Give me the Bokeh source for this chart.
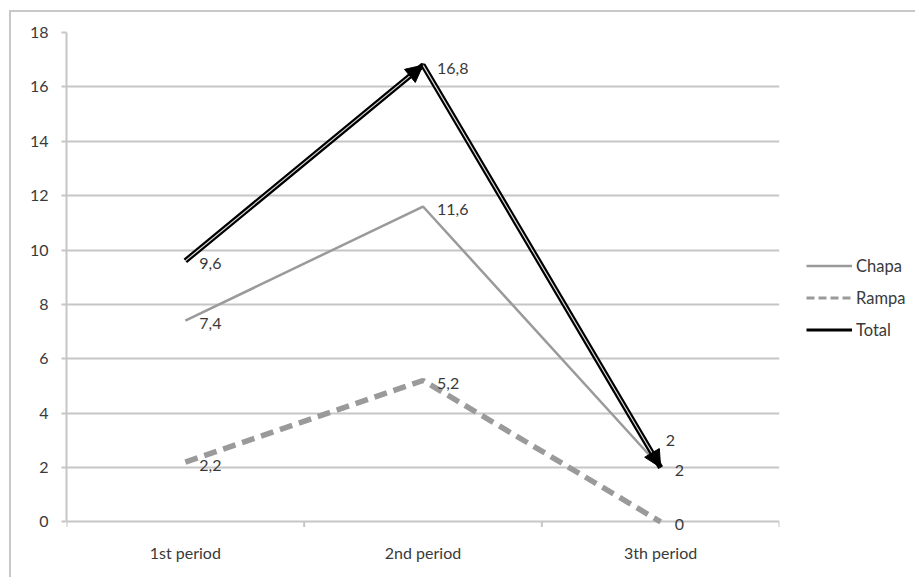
from bokeh.plotting import figure
from bokeh.models import (ColumnDataSource, Range1d, FixedTicker, Legend, LegendItem,
                          Arrow, NormalHead, InlineStyleSheet, LabelSet)
from bokeh.core.properties import value
from bokeh.embed import file_html
from bokeh.resources import INLINE

# --- data -------------------------------------------------------------
categories = ["1st period", "2nd period", "3th period"]
chapa = [7.4, 11.6, 2]
rampa = [2.2, 5.2, 0]
total = [9.6, 16.8, 2]
y_ticks = [0, 2, 4, 6, 8, 10, 12, 14, 16, 18]

FONT = "Lato"
GRID = "#c6c6c6"
GRAY = "#9a9a9a"
TXT = "#3a3a3a"

xs = [i + 0.5 for i in range(len(categories))]
bounds_x = list(range(len(categories) + 1))


def fmt(v):
    return f"{v:g}".replace(".", ",")


# a little room below zero so the "0" data label is not clipped by the frame
Y_LOW = -0.5
FRAME_H = 503
PX_PER_UNIT = FRAME_H / (y_ticks[-1] - Y_LOW)

p = figure(frame_width=713, frame_height=FRAME_H, output_backend="svg", toolbar_location=None,
           x_range=Range1d(0, len(categories)), y_range=Range1d(Y_LOW, y_ticks[-1]),
           min_border_left=55, min_border_right=10, min_border_top=20, min_border_bottom=42)
p.outline_line_color = None
p.background_fill_color = "white"
p.border_fill_color = "white"
p.stylesheets = [InlineStyleSheet(css=":host { margin: 10px 0 0 9px; "
                                      "border-top: 2px solid #c8c8c8; "
                                      "border-left: 2px solid #c8c8c8; "
                                      "max-width: 906px !important; "
                                      "overflow: hidden !important; }")]

# category axis: labels only; the zero grid line serves as the axis line
p.xaxis.ticker = FixedTicker(ticks=xs)
p.xaxis.major_label_overrides = {x: c for x, c in zip(xs, categories)}
p.xaxis.axis_line_color = None
p.xaxis.major_tick_line_color = None
p.xaxis.minor_tick_line_color = None
p.xaxis.major_label_standoff = 1

# category boundary tick marks hanging below the zero line
p.segment(x0=bounds_x, y0=[0] * len(bounds_x), x1=bounds_x,
          y1=[-5 / PX_PER_UNIT] * len(bounds_x), line_color=GRID, line_width=2)

p.yaxis.ticker = FixedTicker(ticks=y_ticks)
p.yaxis.bounds = (y_ticks[0], y_ticks[-1])
p.yaxis.major_tick_out = 5
p.yaxis.major_tick_in = 0
p.yaxis.minor_tick_line_color = None
p.yaxis.major_tick_line_color = GRID
p.yaxis.major_tick_line_width = 2
p.yaxis.major_label_standoff = 13
p.yaxis.axis_line_color = GRID
p.yaxis.axis_line_width = 2

for ax in (p.xaxis, p.yaxis):
    ax.major_label_text_font = FONT
    ax.major_label_text_font_size = "16px"
    ax.major_label_text_color = TXT

p.xgrid.grid_line_color = None
p.ygrid.ticker = FixedTicker(ticks=y_ticks)
p.ygrid.grid_line_color = GRID
p.ygrid.grid_line_width = 2

# series
src_c = ColumnDataSource(dict(x=xs, y=chapa, lab=[fmt(v) for v in chapa],
                              dx=[14, 14, 14], dy=[-3, -3, -3]))
src_r = ColumnDataSource(dict(x=xs, y=rampa, lab=[fmt(v) for v in rampa],
                              dx=[14, 14, 14], dy=[-3, -3, -3]))
src_t = ColumnDataSource(dict(x=xs, y=total, lab=[fmt(v) for v in total],
                              dx=[14, 14, 5], dy=[-3, -3, 27]))

p.line("x", "y", source=src_c, line_color=GRAY, line_width=2.5)
p.line("x", "y", source=src_r, line_color=GRAY, line_width=5.5, line_dash="13 7")
p.line("x", "y", source=src_t, line_color="black", line_width=5.5)
p.line("x", "y", source=src_t, line_color="#d8d8d8", line_width=1.2)

seg = ColumnDataSource(dict(x0=xs[:-1], y0=total[:-1], x1=xs[1:], y1=total[1:]))
p.add_layout(Arrow(source=seg, x_start="x0", y_start="y0", x_end="x1", y_end="y1",
                   line_alpha=0,
                   end=NormalHead(size=17, fill_color="black", line_color="black")))

for s in (src_c, src_r, src_t):
    p.add_layout(LabelSet(x="x", y="y", text="lab", source=s, x_offset="dx", y_offset="dy",
                          text_font=value(FONT), text_font_size="16px", text_color=TXT,
                          text_align="left", text_baseline="middle"))

# legend swatches: single undrawable point, styled only for the legend
nan = float("nan")
lc = p.line([nan], [nan], line_color=GRAY, line_width=2.5)
lr = p.line([nan], [nan], line_color=GRAY, line_width=3, line_dash="8 4")
lt = p.line([nan], [nan], line_color="black", line_width=3)

legend = Legend(items=[LegendItem(label="Chapa", renderers=[lc]),
                       LegendItem(label="Rampa", renderers=[lr]),
                       LegendItem(label="Total", renderers=[lt])],
                location="center_left", orientation="vertical",
                title=" ", title_text_font_size="15px", title_standoff=10,
                glyph_width=46, glyph_height=20, spacing=12, padding=0, margin=27,
                label_standoff=4, label_text_font=FONT, label_text_font_size="16.5px",
                label_text_color=TXT, border_line_color=None, background_fill_alpha=0)
p.add_layout(legend, "right")

open("out.html", "w").write(file_html(p, INLINE))
